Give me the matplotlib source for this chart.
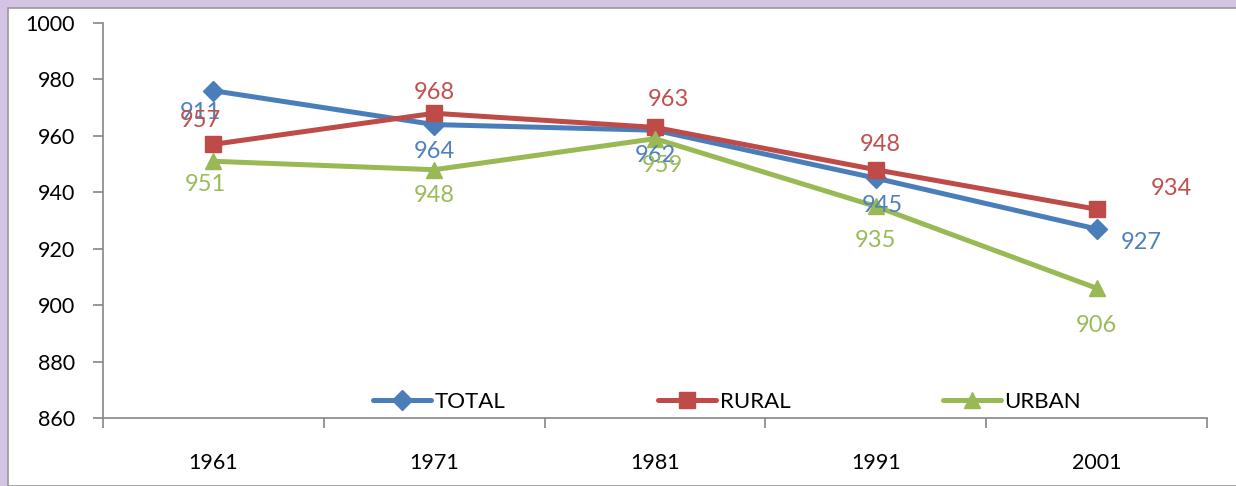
import matplotlib.pyplot as plt
from matplotlib.patches import Rectangle

years = ["1961", "1971", "1981", "1991", "2001"]
total = [976, 964, 962, 945, 927]
rural = [957, 968, 963, 948, 934]
urban = [951, 948, 959, 935, 906]
# data labels as printed in the original chart (first TOTAL label reads 911)
total_labels = ["911", "964", "962", "945", "927"]
rural_labels = ["957", "968", "963", "948", "934"]
urban_labels = ["951", "948", "959", "935", "906"]

plt.rcParams['font.family'] = ['Lato', 'DejaVu Sans']

fig = plt.figure(figsize=(12.36, 4.86), dpi=100)
fig.patch.set_facecolor('#d5c3e3')
# white chart area with thin gray frame
fig.patches.append(Rectangle((8 / 1236, 0), 1, 1 - 8 / 486, transform=fig.transFigure,
                             facecolor='white', edgecolor='#9a9a9a', linewidth=1.2,
                             zorder=-10))

ax = fig.add_axes([103 / 1236, 68 / 486, 1104 / 1236, 395 / 486])
ax.set_facecolor('none')

x = range(len(years))
series = [
    ("TOTAL", total, total_labels, '#4a7ebb', '#4f81bd', 'D', 10,
     [(-13, -22), (0, -27), (0, -25), (7, -27), (45, -14)]),
    ("RURAL", rural, rural_labels, '#be4b48', '#c0504d', 's', 11,
     [(-13, 24), (0, 21), (13, 28), (4, 25), (75, 21)]),
    ("URBAN", urban, urban_labels, '#98b954', '#9bbb59', '^', 11,
     [(-8, -23), (0, -26), (7, -27), (0, -34), (0, -37)]),
]

for name, vals, labs, col, lcol, mk, ms, offs in series:
    ax.plot(x, vals, color=col, linewidth=3.6, marker=mk, markersize=ms,
            label=name, solid_capstyle='round')
    for xi, v, lab, off in zip(x, vals, labs, offs):
        ax.annotate(lab, (xi, v), xytext=off, textcoords='offset pixels',
                    ha='center', va='center', color=lcol, fontsize=17)

ax.set_xlim(-0.5, len(years) - 0.5)
ax.set_ylim(860, 1000)
ax.set_yticks(range(860, 1001, 20))
ax.set_xticks(list(x))
ax.set_xticklabels(years)
ax.set_xticks([i - 0.5 for i in range(len(years) + 1)], minor=True)
ax.tick_params(axis='x', which='major', length=0, pad=25, labelsize=15.5)
ax.tick_params(axis='x', which='minor', length=7, color='#868686', width=1.2)
ax.tick_params(axis='y', length=7, color='#868686', width=1.2, labelsize=15.5, pad=13)

for s in ['top', 'right']:
    ax.spines[s].set_visible(False)
for s in ['left', 'bottom']:
    ax.spines[s].set_color('#868686')
    ax.spines[s].set_linewidth(1.2)

ax.legend(loc='lower left', bbox_to_anchor=(0.2347, -0.012), ncol=3, frameon=False,
          borderpad=0, fontsize=16, handlelength=2.6, columnspacing=6.9,
          handletextpad=0.15)

fig.savefig("out.png", dpi=100)
